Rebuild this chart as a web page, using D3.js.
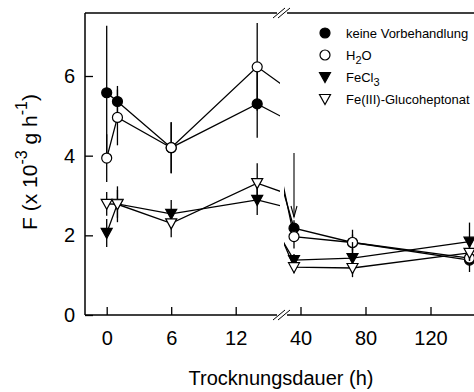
<!DOCTYPE html>
<html><head><meta charset="utf-8">
<script src="https://cdn.jsdelivr.net/npm/d3@7"></script>
<style>
body{margin:0;background:#fff}
svg{display:block}
text{font-family:"Liberation Sans",Arial,Helvetica,sans-serif;fill:#000}
</style>
</head><body>
<svg id="chart" width="474" height="392"></svg>
<script>
// ---- data ----
const times      = [0, 1, 6, 14, 36, 72, 144];
const keine      = [5.58, 5.36, 4.20, 5.30, 2.18, 1.82, 1.38];
const keineErr   = [1.68, 0.39, 0.64, 0.85, 0.20, 0.20, 0.30];
const h2o        = [3.94, 4.96, 4.20, 6.23, 1.97, 1.82, 1.43];
const h2oErr     = [0.60, 0.70, 0.64, 1.10, 0.30, 0.32, 0.20];
const fecl3      = [2.06, 2.79, 2.54, 2.89, 1.38, 1.43, 1.84];
const fecl3Err   = [0.35, 0.35, 0.35, 0.38, 0.15, 0.40, 0.48];
const gluco      = [2.79, 2.78, 2.30, 3.31, 1.20, 1.18, 1.56];
const glucoErr   = [0.30, 0.45, 0.35, 0.50, 0.15, 0.23, 0.20];
const seriesLabels = ["keine Vorbehandlung", "H2O", "FeCl3", "Fe(III)-Glucoheptonat"];
const yTicks = [0, 2, 4, 6];
const xTicksLeft = [0, 6, 12];
const xTicksRight = [40, 80, 120];
const arrowAnn = {t: 36, from: 4.07, to: 2.46};
const yLabelParts = ["F (x 10", "-3", " g h", "-1", ")"];
const xLabel = "Trocknungsdauer (h)";

// ---- layout ----
const svg = d3.select("#chart");
const W = 474, H = 392;
const pLeft = 85, pTop = 13, pBottom = 315;
const leftEnd = 280, rightStart = 284;
const breakX = 281;

const y = d3.scaleLinear().domain([0, 6]).range([pBottom, 76]);
const xL = d3.scaleLinear().domain([0, 12]).range([106.7, 235.7]);
const xR = d3.scaleLinear().domain([40, 120]).range([300.5, 430.5]);

const defs = svg.append("defs");
defs.append("clipPath").attr("id", "clipL").append("rect")
  .attr("x", pLeft).attr("y", 0).attr("width", leftEnd - pLeft).attr("height", H);
defs.append("clipPath").attr("id", "clipR").append("rect")
  .attr("x", rightStart).attr("y", 0).attr("width", W - rightStart + 10).attr("height", H);

const series = [
  {vals: keine, err: keineErr, sym: "circle", fill: "#000"},
  {vals: h2o, err: h2oErr, sym: "circle", fill: "#fff"},
  {vals: fecl3, err: fecl3Err, sym: "tri", fill: "#000"},
  {vals: gluco, err: glucoErr, sym: "tri", fill: "#fff"}
];

function drawMarker(g, sym, fill, cx, cy) {
  if (sym === "circle") {
    g.append("circle").attr("cx", cx).attr("cy", cy).attr("r", 5)
      .attr("fill", fill).attr("stroke", "#000").attr("stroke-width", 1.2);
  } else {
    g.append("path")
      .attr("d", `M${cx-5.5},${cy-4.5}L${cx+5.5},${cy-4.5}L${cx},${cy+5.5}Z`)
      .attr("fill", fill).attr("stroke", "#000").attr("stroke-width", 1.2)
      .attr("stroke-linejoin", "miter");
  }
}

function drawPanel(xs, clipId, inPanel) {
  const g = svg.append("g").attr("clip-path", `url(#${clipId})`);
  const pts = times.map((t, i) => i).filter(i => inPanel(times[i]));
  const line = d3.line().x(d => xs(d[0])).y(d => y(d[1]));
  series.forEach(s => {
    pts.forEach(i => {
      g.append("line")
        .attr("x1", xs(times[i])).attr("x2", xs(times[i]))
        .attr("y1", y(s.vals[i] - s.err[i])).attr("y2", y(s.vals[i] + s.err[i]))
        .attr("stroke", "#000").attr("stroke-width", 1.3);
    });
    g.append("path").datum(times.map((t, i) => [t, s.vals[i]]))
      .attr("d", line).attr("fill", "none")
      .attr("stroke", "#000").attr("stroke-width", 1.3);
    pts.forEach(i => drawMarker(g, s.sym, s.fill, xs(times[i]), y(s.vals[i])));
  });
  return g;
}

drawPanel(xL, "clipL", t => t <= 14);
drawPanel(xR, "clipR", t => t >= 36);

// arrow annotation
{
  const ax = xR(arrowAnn.t), y1 = y(arrowAnn.from), y2 = y(arrowAnn.to);
  svg.append("line").attr("x1", ax).attr("x2", ax).attr("y1", y1).attr("y2", y2)
    .attr("stroke", "#000").attr("stroke-width", 1.1);
  svg.append("path").attr("d", `M${ax-3},${y2-11}L${ax},${y2}L${ax+3},${y2-11}`)
    .attr("fill", "none").attr("stroke", "#000").attr("stroke-width", 1.1);
}

// ---- axes ----
const axStroke = 1.5;
svg.append("line").attr("x1", pLeft).attr("x2", pLeft).attr("y1", pTop).attr("y2", pBottom)
  .attr("stroke", "#000").attr("stroke-width", axStroke);
svg.append("line").attr("x1", pLeft).attr("x2", breakX - 4).attr("y1", pBottom).attr("y2", pBottom)
  .attr("stroke", "#000").attr("stroke-width", axStroke);
svg.append("line").attr("x1", breakX + 6).attr("x2", W).attr("y1", pBottom).attr("y2", pBottom)
  .attr("stroke", "#000").attr("stroke-width", axStroke);
svg.append("line").attr("x1", pLeft).attr("x2", breakX - 4).attr("y1", pTop).attr("y2", pTop)
  .attr("stroke", "#000").attr("stroke-width", axStroke);
svg.append("line").attr("x1", breakX + 6).attr("x2", W).attr("y1", pTop).attr("y2", pTop)
  .attr("stroke", "#000").attr("stroke-width", axStroke);
function breakMark(cx, cy) {
  [-3, 2].forEach(o => {
    svg.append("line")
      .attr("x1", cx + o - 6).attr("y1", cy + 5)
      .attr("x2", cx + o + 6).attr("y2", cy - 5)
      .attr("stroke", "#000").attr("stroke-width", 1);
  });
}
breakMark(breakX + 1, pBottom);
breakMark(breakX + 1, pTop);

function styleAxis(g) {
  g.select(".domain").remove();
  g.selectAll(".tick line").attr("stroke", "#000").attr("stroke-width", 1.3);
  g.selectAll(".tick text").attr("font-size", 20).attr("fill", "#000")
    .attr("font-family", '"Liberation Sans",Arial,sans-serif');
}
svg.append("g").attr("transform", `translate(${pLeft},0)`)
  .call(d3.axisLeft(y).tickValues(yTicks).tickFormat(d3.format("d"))
    .tickSizeInner(-8).tickSizeOuter(0).tickPadding(10))
  .call(styleAxis);
svg.append("g").attr("transform", `translate(0,${pBottom})`)
  .call(d3.axisBottom(xL).tickValues(xTicksLeft).tickFormat(d3.format("d"))
    .tickSizeInner(-8).tickSizeOuter(0).tickPadding(16))
  .call(styleAxis);
svg.append("g").attr("transform", `translate(0,${pBottom})`)
  .call(d3.axisBottom(xR).tickValues(xTicksRight).tickFormat(d3.format("d"))
    .tickSizeInner(-8).tickSizeOuter(0).tickPadding(16))
  .call(styleAxis);

// axis titles
svg.append("text").attr("x", 281).attr("y", 385).attr("text-anchor", "middle")
  .attr("font-size", 20).text(xLabel);

const yl = svg.append("text").attr("transform", "translate(37,162) rotate(-90)")
  .attr("text-anchor", "middle").attr("font-size", 21);
yl.append("tspan").text(yLabelParts[0]);
yl.append("tspan").attr("dy", -10).attr("font-size", 16).text(yLabelParts[1]);
yl.append("tspan").attr("dy", 10).text(yLabelParts[2]);
yl.append("tspan").attr("dy", -10).attr("font-size", 16).text(yLabelParts[3]);
yl.append("tspan").attr("dy", 10).text(yLabelParts[4]);

// ---- legend ----
const legY = [33, 55, 77, 99];
series.forEach((s, i) => {
  const lg = svg.append("g");
  drawMarker(lg, s.sym, s.fill, 325, legY[i]);
  const t = lg.append("text").attr("x", 346).attr("y", legY[i] + 5).attr("font-size", 13);
  const lab = seriesLabels[i];
  if (lab === "H2O") {
    t.append("tspan").text("H");
    t.append("tspan").attr("dy", 4).attr("font-size", 11).text("2");
    t.append("tspan").attr("dy", -4).text("O");
  } else if (lab === "FeCl3") {
    t.append("tspan").text("FeCl");
    t.append("tspan").attr("dy", 4).attr("font-size", 11).text("3");
  } else {
    t.text(lab);
  }
});
</script>
</body></html>
